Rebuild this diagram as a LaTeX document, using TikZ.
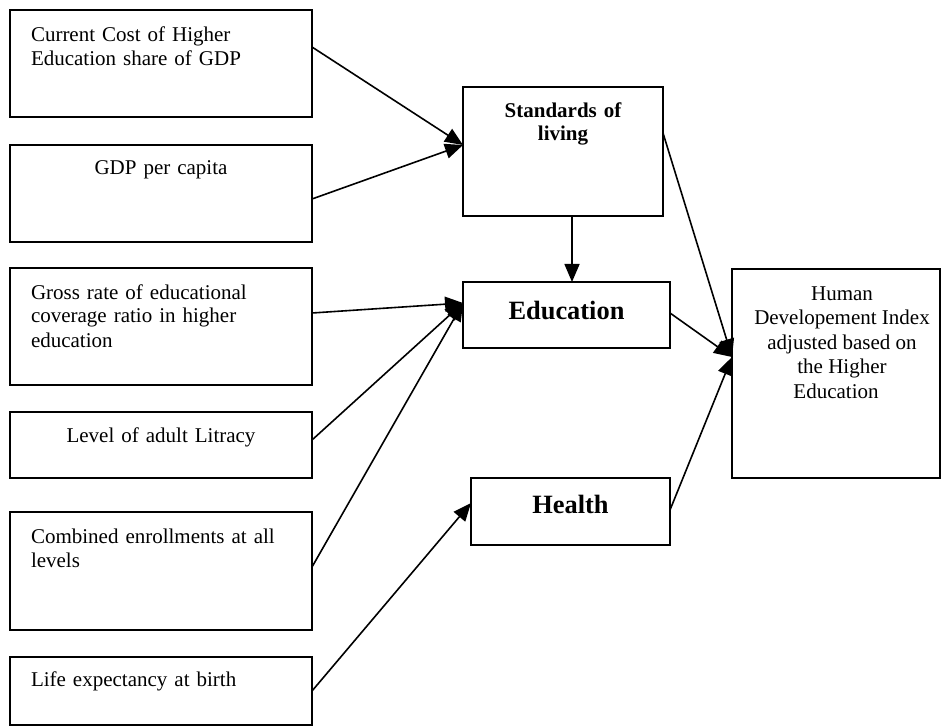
\documentclass[tikz,border=0pt]{standalone}
\usepackage{fontspec}
\setmainfont{Liberation Serif}
\usetikzlibrary{positioning, arrows.meta}

\begin{document}
\begin{tikzpicture}[x=1pt, y=-1pt, node distance=28pt,
        box/.style={draw, line width=1.8pt, outer sep=0pt, inner ysep=0pt,
            inner xsep=21pt, text width=260pt, align=left,
            font=\fontsize{21}{24}\selectfont},
        midbox/.style={draw, line width=1.8pt, outer sep=0pt, inner ysep=0pt,
            inner xsep=10pt, align=center, anchor=north west},
        link/.style={line width=1.6pt, -{Triangle[length=18pt, width=15pt]}}]
            \useasboundingbox (0,0) rectangle (942,727);

            % left column
            \node [box, anchor=north west, text height=32pt, text depth=75pt] (cost) at (10,10)
                {Current Cost of Higher\\ Education share of GDP};
            \node [box, below=of cost, align=center, text height=30pt, text depth=67pt] (gdp)
                {GDP per capita};
            \node [box, below=26pt of gdp, text height=31pt, text depth=86pt] (gross)
                {Gross rate of educational\\ coverage ratio in higher\\ education};
            \node [box, below=27pt of gross, align=center, text height=30pt, text depth=36pt] (litr)
                {Level of adult Litracy};
            \node [box, below=34pt of litr, text height=31pt, text depth=87pt] (enrol)
                {Combined enrollments at all\\ levels};
            \node [box, below=27pt of enrol, text height=29pt, text depth=39pt] (life)
                {Life expectancy at birth};

            % middle and right
            \node [midbox, text width=180pt, text height=31pt, text depth=98pt,
                font=\fontsize{21}{23}\selectfont\bfseries] (std) at (463,87)
                {Standards of\\ living};
            \node [midbox, text width=187pt, text height=37pt, text depth=29pt,
                font=\fontsize{26.4}{30}\selectfont\bfseries] (edu) at (463,282)
                {Education};
            \node [midbox, text width=179pt, text height=35pt, text depth=32pt,
                font=\fontsize{26.4}{30}\selectfont\bfseries] (hea) at (471,478)
                {Health};
            \node [midbox, align=flush center, text width=188pt, text height=31pt, text depth=178pt,
                font=\fontsize{21}{24.5}\selectfont] (hdi) at (732,269)
                {\leftskip=12pt plus 1fil Human\\ Developement Index\\ adjusted based on\\ the Higher\\ Education};

            \coordinate (stdin) at ([yshift=6.5pt]std.west);
            \coordinate (eduin) at ([yshift=12pt]edu.west);
            \coordinate (heain) at ([yshift=8.5pt]hea.west);
            \coordinate (hdiin) at ([yshift=16.5pt]hdi.west);

            \draw [link] ([yshift=16.5pt]cost.east) -- (stdin);
            \draw [link] ([yshift=-5.5pt]gdp.east) -- (stdin);
            \draw [link] ([xshift=9pt]std.south) -- ([xshift=5.5pt]edu.north);
            \draw [link] ([yshift=13.5pt]gross.east) -- (eduin);
            \draw [link] ([yshift=5pt]litr.east) -- (eduin);
            \draw [link] ([yshift=4pt]enrol.east) -- (eduin);
            \draw [link] (life.east) -- (heain);
            \draw [link] ([yshift=18.5pt]std.east) -- (hdiin);
            \draw [link] ([yshift=2pt]edu.east) -- (hdiin);
            \draw [link] ([yshift=1.5pt]hea.east) -- (hdiin);

        \end{tikzpicture}
\end{document}
